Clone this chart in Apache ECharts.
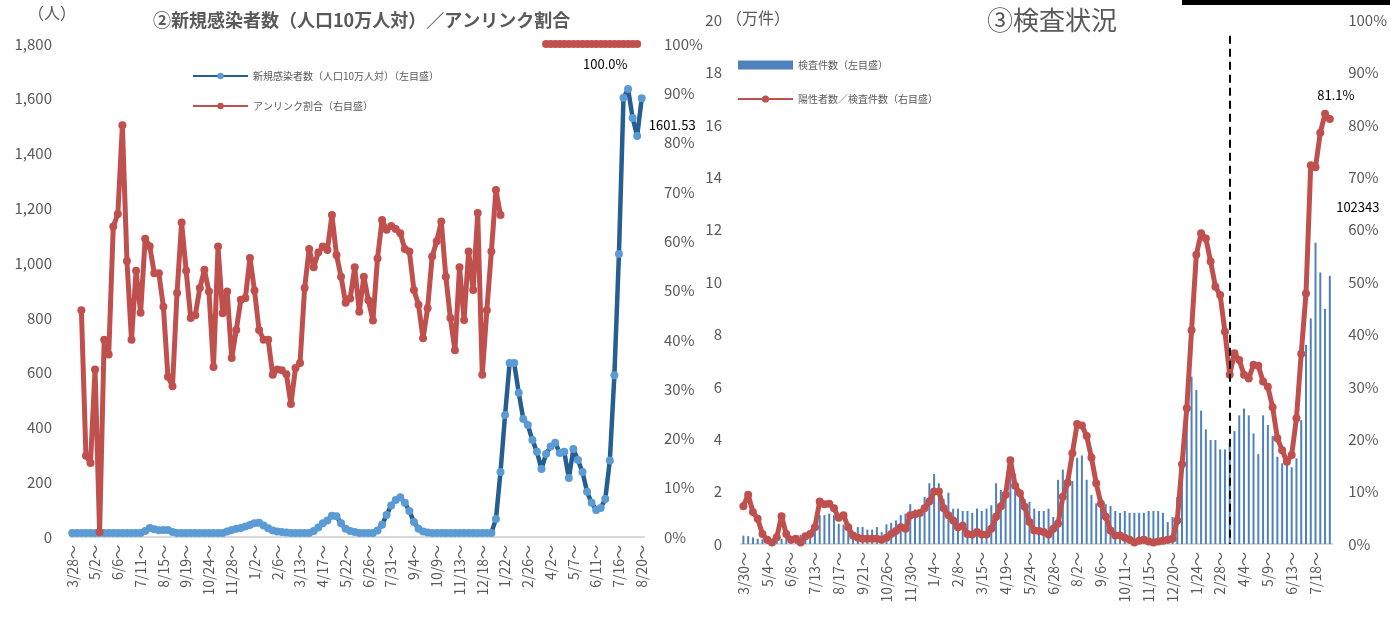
<!DOCTYPE html>
<html>
<head>
<meta charset="utf-8">
<script src="https://cdn.jsdelivr.net/npm/echarts@6.0.0/dist/echarts.min.js"></script>
<style>
  html, body { margin: 0; padding: 0; background: #fff; }
  #main { width: 1390px; height: 619px; }
</style>
</head>
<body>
<div id="main"></div>
<script>
// weekly category labels, "3/28～" style
function weekLabels(y, m, d, n) {
  var out = [];
  var t0 = Date.UTC(y, m - 1, d);
  for (var i = 0; i < n; i++) {
    var dt = new Date(t0 + i * 7 * 864e5);
    out.push((dt.getUTCMonth() + 1) + '/' + dt.getUTCDate() + '～');
  }
  return out;
}

// ② 新規感染者数（人口10万人対） / アンリンク割合
var leftWeeks = weekLabels(2020, 3, 28, 126);
var newCases = [
  15, 15, 15, 15, 15, 15, 15, 15, 15, 15, 15, 15, 15, 15, 15, 15,
  22, 33, 28, 25, 26, 26, 18,
  15, 15, 15, 15, 15, 15, 15, 15, 15, 15, 15,
  20, 26, 30, 33, 38, 44, 50, 52, 42, 32, 24, 20, 18, 16,
  15, 15, 15, 15, 15,
  22, 35, 50, 60, 78, 76, 50, 30, 22, 18,
  15, 15, 15, 15,
  24, 45, 80, 115, 135, 145, 125, 95, 55, 30, 20, 16,
  15, 15, 15, 15, 15, 15, 15, 15, 15, 15, 15, 15, 15, 15,
  66, 237, 445, 635, 635, 527, 431, 409, 354, 311, 248, 303, 330, 344, 307, 311,
  215, 321, 281, 237, 165, 125, 99, 106, 139, 279, 591, 1033, 1604, 1636, 1530, 1464, 1601.53
];
var unlinkedPct = [
  null, null, 46, 16.5, 15, 34, 1, 40, 37, 63, 65.5, 83.5, 56, 40, 54, 45.5, 60.5, 59, 53.5, 53.5,
  46.7, 32.5, 30.6, 49.5, 63.8, 54, 44.4, 45, 50.5, 54.2, 49.8, 34.5, 58.9, 45.4, 49.8, 36.3, 42, 48.1, 48.5, 56.6,
  50, 42, 40, 40, 32.9, 34, 33.8, 33, 27, 34.3, 35.3, 50.5, 58.4, 54.7, 57.7, 58.9, 58.2, 65.3, 57.2, 52.8,
  47.5, 48.4, 54.7, 45.7, 52.8, 48, 43.9, 56.5, 64.3, 62.3, 63.1, 62.5, 61.6, 58.4, 57.9, 50.1, 47.1, 40.3, 46.4, 56.9,
  60, 64, 52.8, 44.4, 37.9, 54.7, 44, 57.9, 50.1, 65.7, 32.9, 46, 57.9, 70.4, 65.3,
  null, null, null, null, null, null, null, null, null,
  100, 100, 100, 100, 100, 100, 100, 100, 100, 100, 100, 100, 100, 100, 100, 100, 100, 100, 100, 100, 100,
  null
];
var leftCasesTicks = [0, 1800, 200];
var leftPctTicks = [0, 100, 10];

// ③ 検査状況
var rightWeeks = weekLabels(2020, 3, 30, 124);
var testCount = [ // 万件
  0.32, 0.30, 0.25, 0.2, 0.18, 0.15, 0.15, 0.18, 0.2, 0.25, 0.28, 0.3, 0.35, 0.38, 0.45, 0.55,
  1.10, 1.10, 1.16, 1.10, 0.77, 0.74, 0.74, 0.39, 0.65, 0.65, 0.55, 0.55, 0.65, 0.45, 0.75, 0.81,
  0.90, 1.10, 1.16, 1.52, 1.32, 1.10, 1.8, 2.32, 2.67, 2.32, 1.72, 1.96, 1.35, 1.35, 1.26, 1.26,
  1.19, 1.35, 1.26, 1.35, 1.48, 2.32, 2.06, 1.72, 3.2, 2.67, 1.72, 1.72, 1.61, 1.35, 1.26, 1.26,
  1.35, 1.03, 2.45, 2.84, 2.45, 2.41, 3.29, 3.38, 2.45, 1.87, 1.55, 1.42, 1.52, 1.45, 1.26, 1.19,
  1.26, 1.19, 1.19, 1.19, 1.19, 1.26, 1.26, 1.26, 1.19, 0.84, 1.03, 1.8, 3.1, 4.8, 6.39, 5.88,
  5.09, 4.38, 3.97, 3.97, 3.61, 3.61, 3.87, 4.31, 4.91, 5.17, 4.91, 4.22, 3.43, 4.91, 4.54, 4.12,
  3.33, 3.08, 3.02, 2.93, 3.27, 4.73, 7.6, 8.61, 11.5, 10.36, 8.97, 10.2343
];
var positivePct = [
  7.2, 9.4, 6.1, 4.8, 1.9, 0.8, 0.3, 1.3, 5.3, 1.9, 0.8, 1.0, 0.3, 1.5, 1.9, 3.2,
  8.1, 7.6, 7.7, 6.8, 5.0, 5.5, 3.2, 1.6, 1.2, 1.0, 1.0, 1.0, 1.0, 0.8, 1.2, 1.9,
  2.5, 3.2, 2.9, 5.5, 5.7, 5.9, 6.8, 8.1, 10.0, 10.0, 6.8, 5.5, 4.5, 3.2, 3.5, 1.9,
  1.8, 2.3, 1.8, 1.8, 2.9, 5.2, 7.2, 9.4, 16.0, 11.1, 9.7, 7.1, 4.2, 2.6, 2.5, 2.3,
  1.8, 2.9, 3.9, 9.0, 11.7, 17.3, 22.9, 22.6, 20.6, 16.5, 11.6, 7.7, 5.2, 2.6, 1.6, 1.6,
  1.2, 0.8, 0.3, 0.6, 0.8, 0.5, 0.3, 0.5, 0.6, 0.8, 1.0, 4.5, 15.2, 25.9, 40.8, 55.2,
  59.3, 58.3, 53.9, 49.1, 47.5, 40.5, 32.3, 36.4, 35.1, 32.3, 31.6, 34.2, 34.0, 31.0, 30.0, 26.1,
  20.2, 17.9, 15.7, 17.0, 24.0, 36.3, 47.8, 72.3, 71.9, 78.5, 82.1, 81.1
];
var rightCountTicks = [0, 20, 2];
var rightPctTicks = [0, 100, 10];
var dividerWeek = 102; // 縦の破線の位置

var FONT = '"Noto Sans CJK JP", "Noto Sans", sans-serif';
var GREY = '#595959';
var RED = '#C0504D';

var chart = echarts.init(document.getElementById('main'));

function xAxisFor(idx, cats) {
  return {
    type: 'category', gridIndex: idx, data: cats, boundaryGap: true,
    axisTick: {show: false},
    axisLine: {lineStyle: {color: '#d9d9d9', width: 2}},
    axisLabel: {interval: 4, rotate: 90, color: GREY, fontSize: 14, fontFamily: FONT, margin: 8}
  };
}
function yAxisFor(idx, ticks, pos, fmt, margin) {
  return {
    type: 'value', gridIndex: idx, position: pos,
    min: ticks[0], max: ticks[1], interval: ticks[2],
    axisLine: {show: false}, axisTick: {show: false}, splitLine: {show: false},
    axisLabel: {color: GREY, fontSize: 15, fontFamily: FONT, margin: margin, formatter: fmt}
  };
}

var lastCase = newCases.length - 1;
var caseData = newCases.map(function (v, i) {
  if (i !== lastCase) return v;
  return {value: v, label: {show: true, position: 'right', distance: 3, offset: [0, 27],
    formatter: String(v), color: '#000', fontSize: 13, fontFamily: FONT}};
});
var unlinkedData = unlinkedPct.map(function (v, i) {
  if (i !== 117) return v;
  return {value: v, label: {show: true, position: 'bottom', distance: 10,
    formatter: v.toFixed(1) + '%', color: '#000', fontSize: 13, fontFamily: FONT}};
});
var lastTest = testCount.length - 1;
var testData = testCount.map(function (v, i) {
  if (i !== lastTest) return v;
  return {value: v, label: {show: true, position: 'top', offset: [28, -57],
    formatter: String(Math.round(v * 10000)), color: '#000', fontSize: 13, fontFamily: FONT}};
});
var posData = positivePct.map(function (v, i) {
  if (i !== positivePct.length - 1) return v;
  return {value: v, label: {show: true, position: 'top', offset: [6, -8],
    formatter: v.toFixed(1) + '%', color: '#000', fontSize: 13, fontFamily: FONT}};
});

var option = {
  backgroundColor: '#fff',
  animation: false,
  textStyle: {fontFamily: FONT},
  title: [
    {text: '②新規感染者数（人口10万人対）／アンリンク割合', left: 148, top: 6,
     textStyle: {fontSize: 18, fontWeight: 'bold', color: GREY, fontFamily: FONT}},
    {text: '③検査状況', left: 982, top: 2,
     textStyle: {fontSize: 26, fontWeight: 'normal', color: GREY, fontFamily: FONT}}
  ],
  legend: [
    {data: ['新規感染者数（人口10万人対）（左目盛）', 'アンリンク割合（右目盛）'],
     orient: 'vertical', left: 187, top: 66, itemWidth: 55, itemHeight: 8, itemGap: 20,
     textStyle: {fontSize: 10, color: GREY, fontFamily: FONT}},
    {data: [{name: '検査件数（左目盛）', icon: 'rect'}, '陽性者数／検査件数（右目盛）'],
     orient: 'vertical', left: 732, top: 55, itemWidth: 55, itemHeight: 9, itemGap: 24,
     textStyle: {fontSize: 10, color: GREY, fontFamily: FONT}}
  ],
  grid: [
    {left: 70, top: 44, width: 574, height: 493},
    {left: 741, top: 20, width: 593, height: 524}
  ],
  xAxis: [xAxisFor(0, leftWeeks), xAxisFor(1, rightWeeks)],
  yAxis: [
    yAxisFor(0, leftCasesTicks, 'left', function (v) { return v.toLocaleString('en-US'); }, 18),
    yAxisFor(0, leftPctTicks, 'right', '{value}%', 20),
    yAxisFor(1, rightCountTicks, 'left', '{value}', 19),
    yAxisFor(1, rightPctTicks, 'right', '{value}%', 16)
  ],
  series: [
    {name: '新規感染者数（人口10万人対）（左目盛）', type: 'line', xAxisIndex: 0, yAxisIndex: 0,
     data: caseData, symbol: 'circle', symbolSize: 8, showAllSymbol: true,
     lineStyle: {color: '#255E91', width: 4.5}, itemStyle: {color: '#5B9BD5'}},
    {name: 'アンリンク割合（右目盛）', type: 'line', xAxisIndex: 0, yAxisIndex: 1,
     data: unlinkedData, symbol: 'circle', symbolSize: 8, showAllSymbol: true, connectNulls: false,
     lineStyle: {color: RED, width: 5}, itemStyle: {color: RED}},
    {name: '検査件数（左目盛）', type: 'bar', xAxisIndex: 1, yAxisIndex: 2,
     data: testData, barWidth: 2, itemStyle: {color: '#4F81BD'},
     markLine: {silent: true, symbol: 'none', label: {show: false},
       lineStyle: {color: '#000', type: [8, 5], width: 2},
       data: [[{xAxis: dividerWeek, yAxis: 19.4}, {xAxis: dividerWeek, yAxis: 0}]]}},
    {name: '陽性者数／検査件数（右目盛）', type: 'line', xAxisIndex: 1, yAxisIndex: 3,
     data: posData, symbol: 'circle', symbolSize: 8, showAllSymbol: true,
     lineStyle: {color: RED, width: 5}, itemStyle: {color: RED}}
  ],
  graphic: [
    {type: 'text', left: 28, top: 5, style: {text: '（人）', fill: GREY, font: '16px ' + FONT}},
    {type: 'text', left: 726, top: 10, style: {text: '（万件）', fill: GREY, font: '16px ' + FONT}},
    {type: 'rect', shape: {x: 1182, y: 0, width: 208, height: 5}, style: {fill: '#000'}}
  ]
};
chart.setOption(option);
</script>
</body>
</html>
